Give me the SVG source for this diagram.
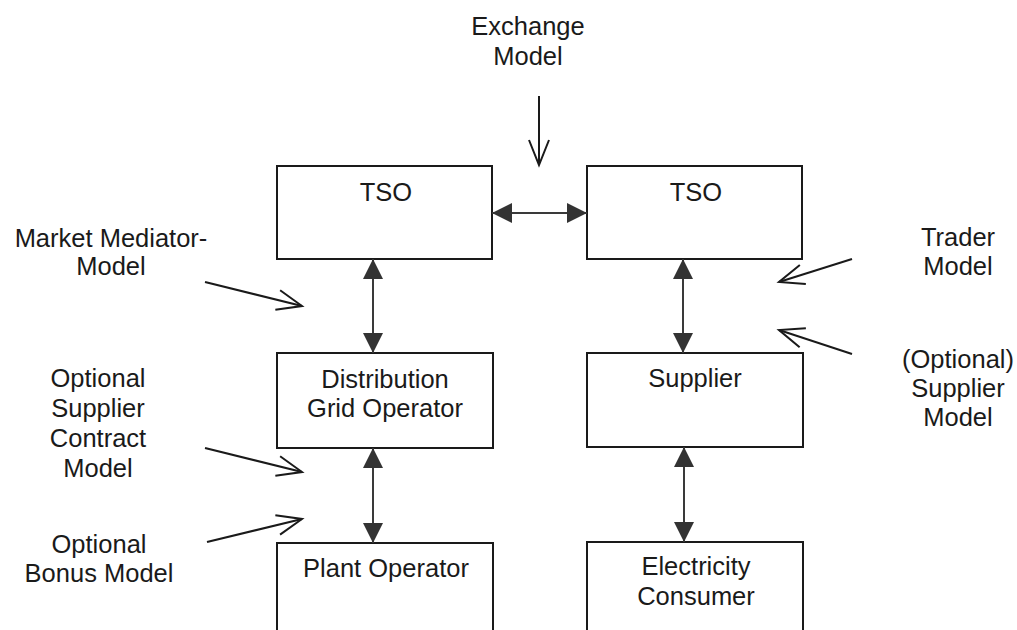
<svg xmlns="http://www.w3.org/2000/svg" width="1017" height="630" viewBox="0 0 1017 630">
  <style>
    text { font-family: "Liberation Sans", Arial, Helvetica, sans-serif; font-size: 25.5px; fill: #1a1a1a; text-anchor: middle; }
    .box { fill: #ffffff; stroke: #1a1a1a; stroke-width: 2; }
    .link { fill: none; stroke: #3a3a3a; stroke-width: 2; }
    .hint { fill: none; stroke: #1a1a1a; stroke-width: 2; }
  </style>
  <defs>
    <marker id="solid" markerUnits="userSpaceOnUse" viewBox="-20 -10 20 20" refX="0" refY="0" markerWidth="20" markerHeight="20" orient="auto-start-reverse">
      <path d="M-20,-10 L0,0 L-20,10 Z" fill="#333333"/>
    </marker>
    <marker id="open" markerUnits="userSpaceOnUse" viewBox="-30 -15 32 30" refX="0" refY="0" markerWidth="32" markerHeight="30" orient="auto" overflow="visible">
      <path d="M-25,-10 L0,0 L-25,10" fill="none" stroke="#1a1a1a" stroke-width="2"/>
    </marker>
  </defs>
  <rect width="1017" height="630" fill="#ffffff"/>

  <g id="tso-left">
    <rect class="box" x="277" y="166" width="215" height="93"/>
    <text x="386" y="201">TSO</text>
  </g>
  <g id="tso-right">
    <rect class="box" x="587" y="166" width="215" height="93"/>
    <text x="696" y="201">TSO</text>
  </g>
  <g id="distribution-grid-operator">
    <rect class="box" x="277" y="353" width="216" height="95"/>
    <text x="385" y="388">Distribution</text>
    <text x="385" y="417">Grid Operator</text>
  </g>
  <g id="supplier">
    <rect class="box" x="587" y="353" width="216" height="94"/>
    <text x="695" y="387">Supplier</text>
  </g>
  <g id="plant-operator">
    <rect class="box" x="277" y="543" width="216" height="100"/>
    <text x="386" y="577">Plant Operator</text>
  </g>
  <g id="electricity-consumer">
    <rect class="box" x="587" y="542" width="216" height="100"/>
    <text x="696" y="575">Electricity</text>
    <text x="696" y="605">Consumer</text>
  </g>

  <g id="label-exchange">
    <text x="528" y="35">Exchange</text>
    <text x="528" y="65">Model</text>
  </g>
  <g id="label-market-mediator">
    <text x="111" y="247">Market Mediator-</text>
    <text x="111" y="275">Model</text>
  </g>
  <g id="label-supplier-contract">
    <text x="98" y="387">Optional</text>
    <text x="98" y="417">Supplier</text>
    <text x="98" y="447">Contract</text>
    <text x="98" y="477">Model</text>
  </g>
  <g id="label-bonus">
    <text x="99" y="553">Optional</text>
    <text x="99" y="582">Bonus Model</text>
  </g>
  <g id="label-trader">
    <text x="958" y="246">Trader</text>
    <text x="958" y="275">Model</text>
  </g>
  <g id="label-optional-supplier">
    <text x="958" y="368">(Optional)</text>
    <text x="958" y="397">Supplier</text>
    <text x="958" y="426">Model</text>
  </g>

  <g id="connectors">
    <line class="link" x1="492" y1="213" x2="587" y2="213" marker-start="url(#solid)" marker-end="url(#solid)"/>
    <line class="link" x1="373" y1="259" x2="373" y2="353" marker-start="url(#solid)" marker-end="url(#solid)"/>
    <line class="link" x1="683" y1="259" x2="683" y2="353" marker-start="url(#solid)" marker-end="url(#solid)"/>
    <line class="link" x1="373" y1="448" x2="373" y2="543" marker-start="url(#solid)" marker-end="url(#solid)"/>
    <line class="link" x1="684" y1="447" x2="684" y2="542" marker-start="url(#solid)" marker-end="url(#solid)"/>

    <line class="hint" x1="539" y1="96" x2="539" y2="165" marker-end="url(#open)"/>
    <line class="hint" x1="205" y1="282" x2="302" y2="306" marker-end="url(#open)"/>
    <line class="hint" x1="205" y1="448" x2="302" y2="472" marker-end="url(#open)"/>
    <line class="hint" x1="207" y1="542" x2="302" y2="519" marker-end="url(#open)"/>
    <line class="hint" x1="852" y1="259" x2="779" y2="282" marker-end="url(#open)"/>
    <line class="hint" x1="852" y1="354" x2="779" y2="330" marker-end="url(#open)"/>
  </g>
</svg>
